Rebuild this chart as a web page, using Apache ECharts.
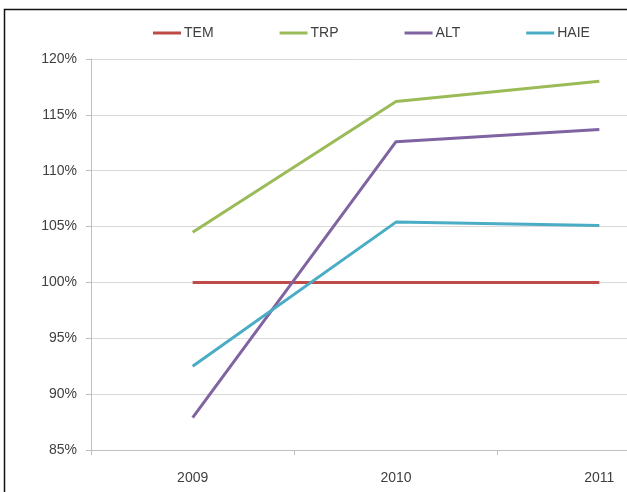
<!DOCTYPE html>
<html>
<head>
<meta charset="utf-8">
<script src="https://cdn.jsdelivr.net/npm/echarts@6/dist/echarts.min.js"></script>
<style>
  html, body { margin: 0; padding: 0; background: #fff; }
  #chart { width: 627px; height: 492px; }
</style>
</head>
<body>
<div id="chart"></div>
<script>
// Relative performance index, base = 100%
const years = ['2009', '2010', '2011'];
const tem  = [100, 100, 100];
const trp  = [104.5, 116.2, 118.0];
const alt  = [87.9, 112.6, 113.7];
const haie = [92.5, 105.4, 105.1];

const yMin = 85, yMax = 120, yStep = 5;

const seriesDefs = [
  { name: 'TEM',  data: tem,  color: '#be4b48' },
  { name: 'TRP',  data: trp,  color: '#9bbb59' },
  { name: 'ALT',  data: alt,  color: '#8064a2' },
  { name: 'HAIE', data: haie, color: '#4bacc6' }
];

const font = '"Liberation Sans", Arial, sans-serif';
const chart = echarts.init(document.getElementById('chart'));

chart.setOption({
  animation: false,
  backgroundColor: '#fff',
  graphic: [{
    type: 'rect',
    shape: { x: 4.5, y: 9.5, width: 720, height: 600 },
    style: { fill: 'none', stroke: '#111', lineWidth: 1.5 },
    silent: true
  }],
  legend: {
    top: 21,
    left: 148,
    itemGap: 66,
    itemWidth: 28,
    itemHeight: 3,
    icon: 'rect',
    textStyle: { fontFamily: font, fontSize: 14, color: '#404040', padding: [0, 0, 0, -2] },
    data: seriesDefs.map(s => s.name)
  },
  // plot area runs past the right edge of the canvas
  grid: {
    left: 91,
    width: 610,
    top: 59,
    bottom: 42,
    outerBoundsMode: 'none',
    containLabel: false
  },
  xAxis: {
    type: 'category',
    data: years,
    boundaryGap: true,
    axisLine: { lineStyle: { color: '#bfbfbf', width: 1 } },
    axisTick: { show: true, length: 5, lineStyle: { color: '#bfbfbf' } },
    axisLabel: { margin: 21, fontFamily: font, fontSize: 14, color: '#404040' },
    splitLine: { show: false }
  },
  yAxis: {
    type: 'value',
    min: yMin,
    max: yMax,
    interval: yStep,
    axisLine: { show: true, lineStyle: { color: '#bfbfbf', width: 1 } },
    axisTick: { show: true, length: 5, lineStyle: { color: '#bfbfbf' } },
    axisLabel: { margin: 14, fontFamily: font, fontSize: 14, color: '#404040', formatter: '{value}%' },
    splitLine: { show: true, lineStyle: { color: '#d9d9d9', width: 1 } }
  },
  series: seriesDefs.map(s => ({
    name: s.name,
    type: 'line',
    data: s.data,
    symbol: 'none',
    color: s.color,
    lineStyle: { width: 3, color: s.color },
    z: 3
  }))
});
</script>
</body>
</html>
